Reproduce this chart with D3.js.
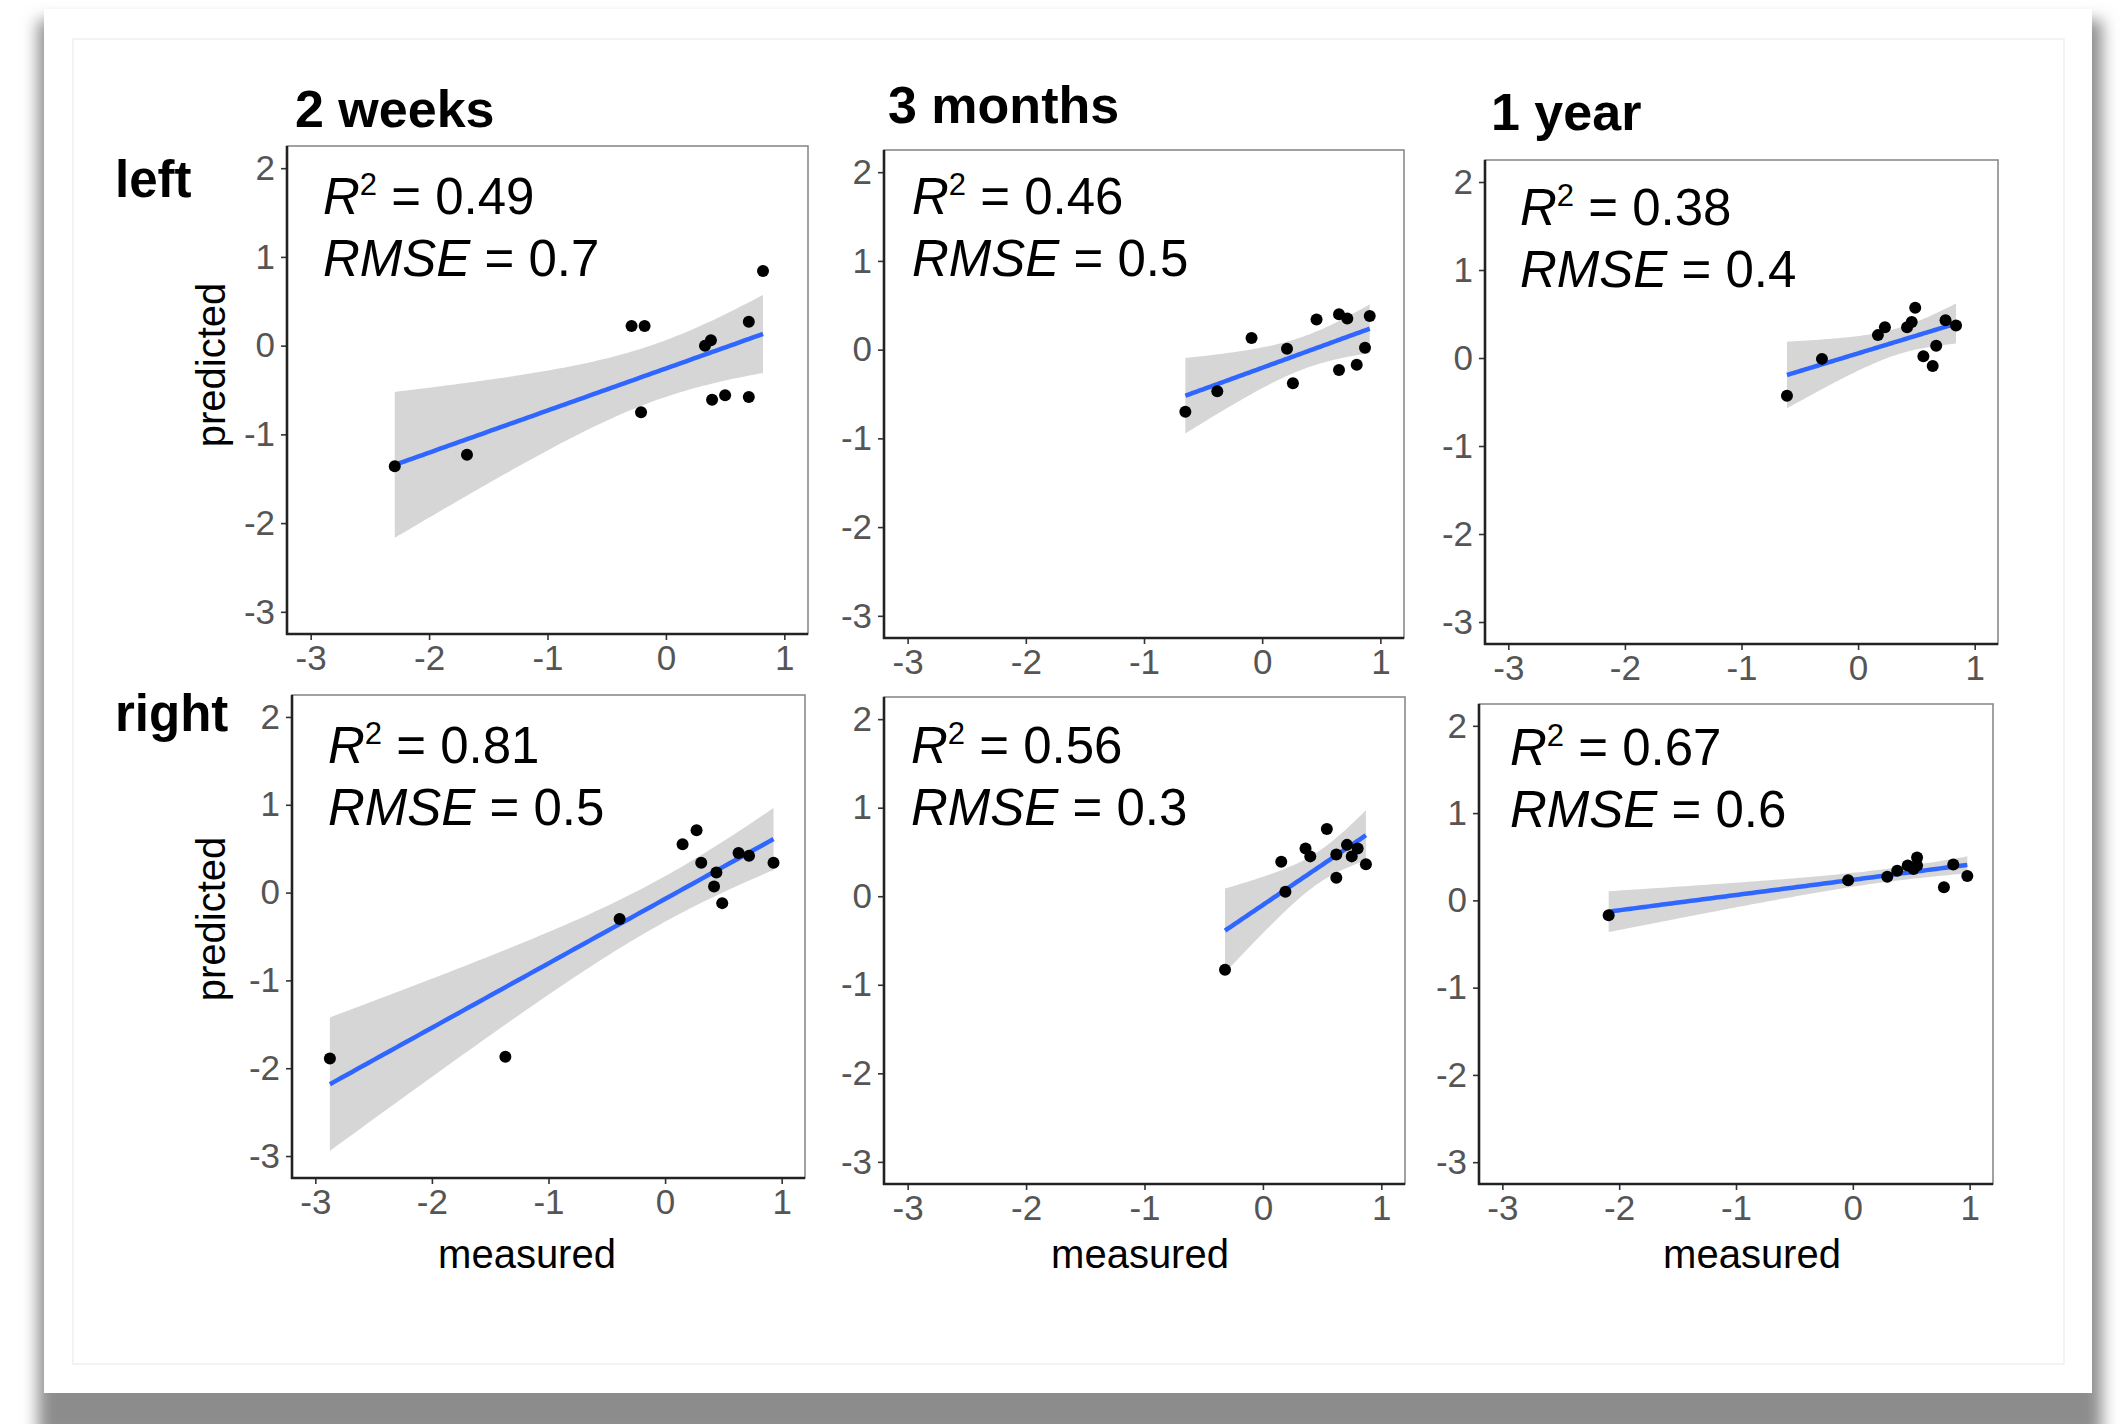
<!DOCTYPE html>
<html>
<head>
<meta charset="utf-8">
<script src="https://cdn.jsdelivr.net/npm/d3@7/dist/d3.min.js"></script>
<style>
  body { margin: 0; background: #ffffff; }
  text { font-family: "Liberation Sans", Arial, Helvetica, sans-serif; }
</style>
</head>
<body>
<div id="chart"></div>
<script>
// column and row labels
var times = ["2 weeks", "3 months", "1 year"];
var sides = ["left", "right"];

// fit statistics printed in each panel (row by row)
var r2Labels = ["0.49", "0.46", "0.38", "0.81", "0.56", "0.67"];
var rmseLabels = ["0.7", "0.5", "0.4", "0.5", "0.3", "0.6"];

var xTicks = [-3, -2, -1, 0, 1];
var yTicks = [-3, -2, -1, 0, 1, 2];

// measured / predicted values
var left2wMeasured  = [-2.29, -1.68, -0.29, -0.18, -0.21, 0.33, 0.38, 0.39, 0.50, 0.70, 0.70, 0.82];
var left2wPredicted = [-1.36, -1.23, 0.22, 0.22, -0.75, 0.00, 0.06, -0.61, -0.56, -0.58, 0.27, 0.84];

var left3mMeasured  = [-0.65, -0.38, -0.09, 0.21, 0.26, 0.46, 0.65, 0.72, 0.65, 0.80, 0.87, 0.91];
var left3mPredicted = [-0.70, -0.47, 0.13, 0.01, -0.38, 0.34, 0.40, 0.35, -0.23, -0.17, 0.02, 0.38];

var left1yMeasured  = [-0.61, -0.31, 0.17, 0.23, 0.42, 0.46, 0.49, 0.56, 0.64, 0.67, 0.75, 0.84];
var left1yPredicted = [-0.43, -0.01, 0.26, 0.35, 0.35, 0.41, 0.57, 0.02, -0.09, 0.14, 0.43, 0.37];

var right2wMeasured  = [-2.875, -1.37, -0.39, 0.15, 0.27, 0.31, 0.44, 0.42, 0.49, 0.63, 0.72, 0.93];
var right2wPredicted = [-1.89, -1.87, -0.30, 0.55, 0.71, 0.34, 0.23, 0.07, -0.12, 0.45, 0.42, 0.34];

var right3mMeasured  = [-0.32, 0.155, 0.19, 0.36, 0.40, 0.54, 0.62, 0.62, 0.71, 0.75, 0.80, 0.87];
var right3mPredicted = [-0.83, 0.39, 0.05, 0.54, 0.45, 0.76, 0.47, 0.21, 0.58, 0.45, 0.54, 0.36];

var right1yMeasured  = [-2.09, -0.04, 0.295, 0.38, 0.47, 0.52, 0.55, 0.55, 0.78, 0.86, 0.98];
var right1yPredicted = [-0.17, 0.23, 0.27, 0.34, 0.40, 0.36, 0.49, 0.40, 0.15, 0.41, 0.28];

var measured  = [left2wMeasured, left3mMeasured, left1yMeasured, right2wMeasured, right3mMeasured, right1yMeasured];
var predicted = [left2wPredicted, left3mPredicted, left1yPredicted, right2wPredicted, right3mPredicted, right1yPredicted];

// 97.5% t quantiles for the confidence band (by degrees of freedom)
var tQuant = {8: 2.306, 9: 2.262, 10: 2.228, 11: 2.201, 12: 2.179, 13: 2.160};

// panel boxes on the page (x0, x1, y0, y1)
var boxes = [
  [287, 808, 146, 634], [884, 1404, 150, 638], [1485, 1998, 160, 644],
  [292, 805, 695, 1178], [884, 1405, 697, 1184], [1479, 1993, 704, 1184]
];
var annotOffset = [[36, 68], [28, 64], [35, 65], [36, 68], [27, 66], [31, 61]];

var W = 2120, H = 1424;

var svg = d3.select("#chart").append("svg")
    .attr("width", W)
    .attr("height", H);

var defs = svg.append("defs");
defs.append("filter")
    .attr("id", "shadow")
    .attr("x", "-5%").attr("y", "-5%")
    .attr("width", "110%").attr("height", "115%")
  .append("feGaussianBlur")
    .attr("stdDeviation", 8);

// card with drop shadow
svg.append("rect")
    .attr("x", 38).attr("y", 20)
    .attr("width", 2064).attr("height", 1418)
    .attr("fill", "#8c8c8c")
    .attr("filter", "url(#shadow)");
svg.append("rect")
    .attr("x", 44).attr("y", 9)
    .attr("width", 2048).attr("height", 1384)
    .attr("fill", "#ffffff");
svg.append("rect")
    .attr("x", 73).attr("y", 39)
    .attr("width", 1991).attr("height", 1325)
    .attr("fill", "none")
    .attr("stroke", "#efefef")
    .attr("stroke-width", 1.5);

// linear fit with 95% confidence band (like geom_smooth(method = "lm"))
function lmBand(xs, ys) {
  var n = xs.length,
      mx = d3.mean(xs), my = d3.mean(ys),
      sxx = d3.sum(xs, function(v) { return (v - mx) * (v - mx); }),
      sxy = d3.sum(xs, function(v, i) { return (v - mx) * (ys[i] - my); }),
      b = sxy / sxx, a = my - b * mx,
      sse = d3.sum(xs, function(v, i) { var r = ys[i] - (a + b * v); return r * r; }),
      s = Math.sqrt(sse / (n - 2)),
      t = tQuant[n - 2],
      lo = d3.min(xs), hi = d3.max(xs);
  return d3.range(81).map(function(i) {
    var xv = lo + (hi - lo) * i / 80,
        yv = a + b * xv,
        se = s * Math.sqrt(1 / n + (xv - mx) * (xv - mx) / sxx);
    return {x: xv, y: yv, lower: yv - t * se, upper: yv + t * se};
  });
}

boxes.forEach(function(bx, k) {
  var x = d3.scaleLinear().domain([-3.2, 1.2]).range([bx[0], bx[1]]);
  var y = d3.scaleLinear().domain([-3.25, 2.25]).range([bx[3], bx[2]]);
  var g = svg.append("g");

  // panel border (grey) then the black axis lines
  g.append("rect")
      .attr("x", bx[0]).attr("y", bx[2])
      .attr("width", bx[1] - bx[0]).attr("height", bx[3] - bx[2])
      .attr("fill", "#ffffff")
      .attr("stroke", "#8a8a8a")
      .attr("stroke-width", 1.6);

  var fit = lmBand(measured[k], predicted[k]);

  g.append("path")
      .datum(fit)
      .attr("fill", "#999999")
      .attr("fill-opacity", 0.4)
      .attr("d", d3.area()
        .x(function(d) { return x(d.x); })
        .y0(function(d) { return y(d.lower); })
        .y1(function(d) { return y(d.upper); }));

  g.append("path")
      .datum(fit)
      .attr("fill", "none")
      .attr("stroke", "#2F66FF")
      .attr("stroke-width", 4.5)
      .attr("d", d3.line()
        .x(function(d) { return x(d.x); })
        .y(function(d) { return y(d.y); }));

  g.selectAll("circle")
    .data(measured[k])
    .enter()
    .append("circle")
      .attr("cx", function(d) { return x(d); })
      .attr("cy", function(d, i) { return y(predicted[k][i]); })
      .attr("r", 6)
      .attr("fill", "#000000");

  // axes
  var ax = g.append("g")
      .attr("transform", "translate(0," + bx[3] + ")")
      .call(d3.axisBottom(x).tickValues(xTicks).tickSize(6).tickPadding(5)
        .tickFormat(function(d) { return String(d); }));
  var ay = g.append("g")
      .attr("transform", "translate(" + bx[0] + ",0)")
      .call(d3.axisLeft(y).tickValues(yTicks).tickSize(6).tickPadding(6)
        .tickFormat(function(d) { return String(d); }));

  [ax, ay].forEach(function(a) {
    a.select(".domain").remove();
    a.selectAll(".tick line").attr("stroke", "#333333").attr("stroke-width", 1.6);
    a.selectAll(".tick text")
        .attr("fill", "#555555")
        .style("font-size", "35px")
        .style("font-family", "'Liberation Sans', Arial, sans-serif");
  });

  g.append("line")
      .attr("x1", bx[0]).attr("x2", bx[0])
      .attr("y1", bx[2]).attr("y2", bx[3] + 1)
      .attr("stroke", "#222222").attr("stroke-width", 2.6);
  g.append("line")
      .attr("x1", bx[0] - 1).attr("x2", bx[1])
      .attr("y1", bx[3]).attr("y2", bx[3])
      .attr("stroke", "#222222").attr("stroke-width", 2.6);

  // R^2 and RMSE annotation
  var ox = bx[0] + annotOffset[k][0], oy = bx[2] + annotOffset[k][1];
  var t1 = g.append("text")
      .attr("x", ox).attr("y", oy)
      .style("font-size", "51px")
      .attr("fill", "#000000");
  t1.append("tspan").style("font-style", "italic").text("R");
  t1.append("tspan").style("font-size", "31px").attr("dy", -19).text("2");
  t1.append("tspan").attr("dy", 19).text(" = " + r2Labels[k]);

  var t2 = g.append("text")
      .attr("x", ox).attr("y", oy + 62)
      .style("font-size", "51px")
      .attr("fill", "#000000");
  t2.append("tspan").style("font-style", "italic").text("RMSE");
  t2.append("tspan").text(" = " + rmseLabels[k]);
});

// column titles
var titlePos = [[295, 127], [888, 123], [1491, 130]];
svg.selectAll(".coltitle")
  .data(times)
  .enter()
  .append("text")
    .attr("class", "coltitle")
    .attr("x", function(d, i) { return titlePos[i][0]; })
    .attr("y", function(d, i) { return titlePos[i][1]; })
    .style("font-size", "52px")
    .style("font-weight", "bold")
    .text(function(d) { return d; });

// row labels
var rowPos = [[115, 197], [115, 731]];
svg.selectAll(".rowtitle")
  .data(sides)
  .enter()
  .append("text")
    .attr("class", "rowtitle")
    .attr("x", function(d, i) { return rowPos[i][0]; })
    .attr("y", function(d, i) { return rowPos[i][1]; })
    .style("font-size", "51px")
    .style("font-weight", "bold")
    .text(function(d) { return d; });

// axis titles
[365, 919].forEach(function(cy) {
  svg.append("text")
      .attr("transform", "translate(225," + cy + ") rotate(-90)")
      .attr("text-anchor", "middle")
      .style("font-size", "40px")
      .text("predicted");
});
[527, 1140, 1752].forEach(function(cx) {
  svg.append("text")
      .attr("x", cx).attr("y", 1268)
      .attr("text-anchor", "middle")
      .style("font-size", "40px")
      .text("measured");
});
</script>
</body>
</html>
